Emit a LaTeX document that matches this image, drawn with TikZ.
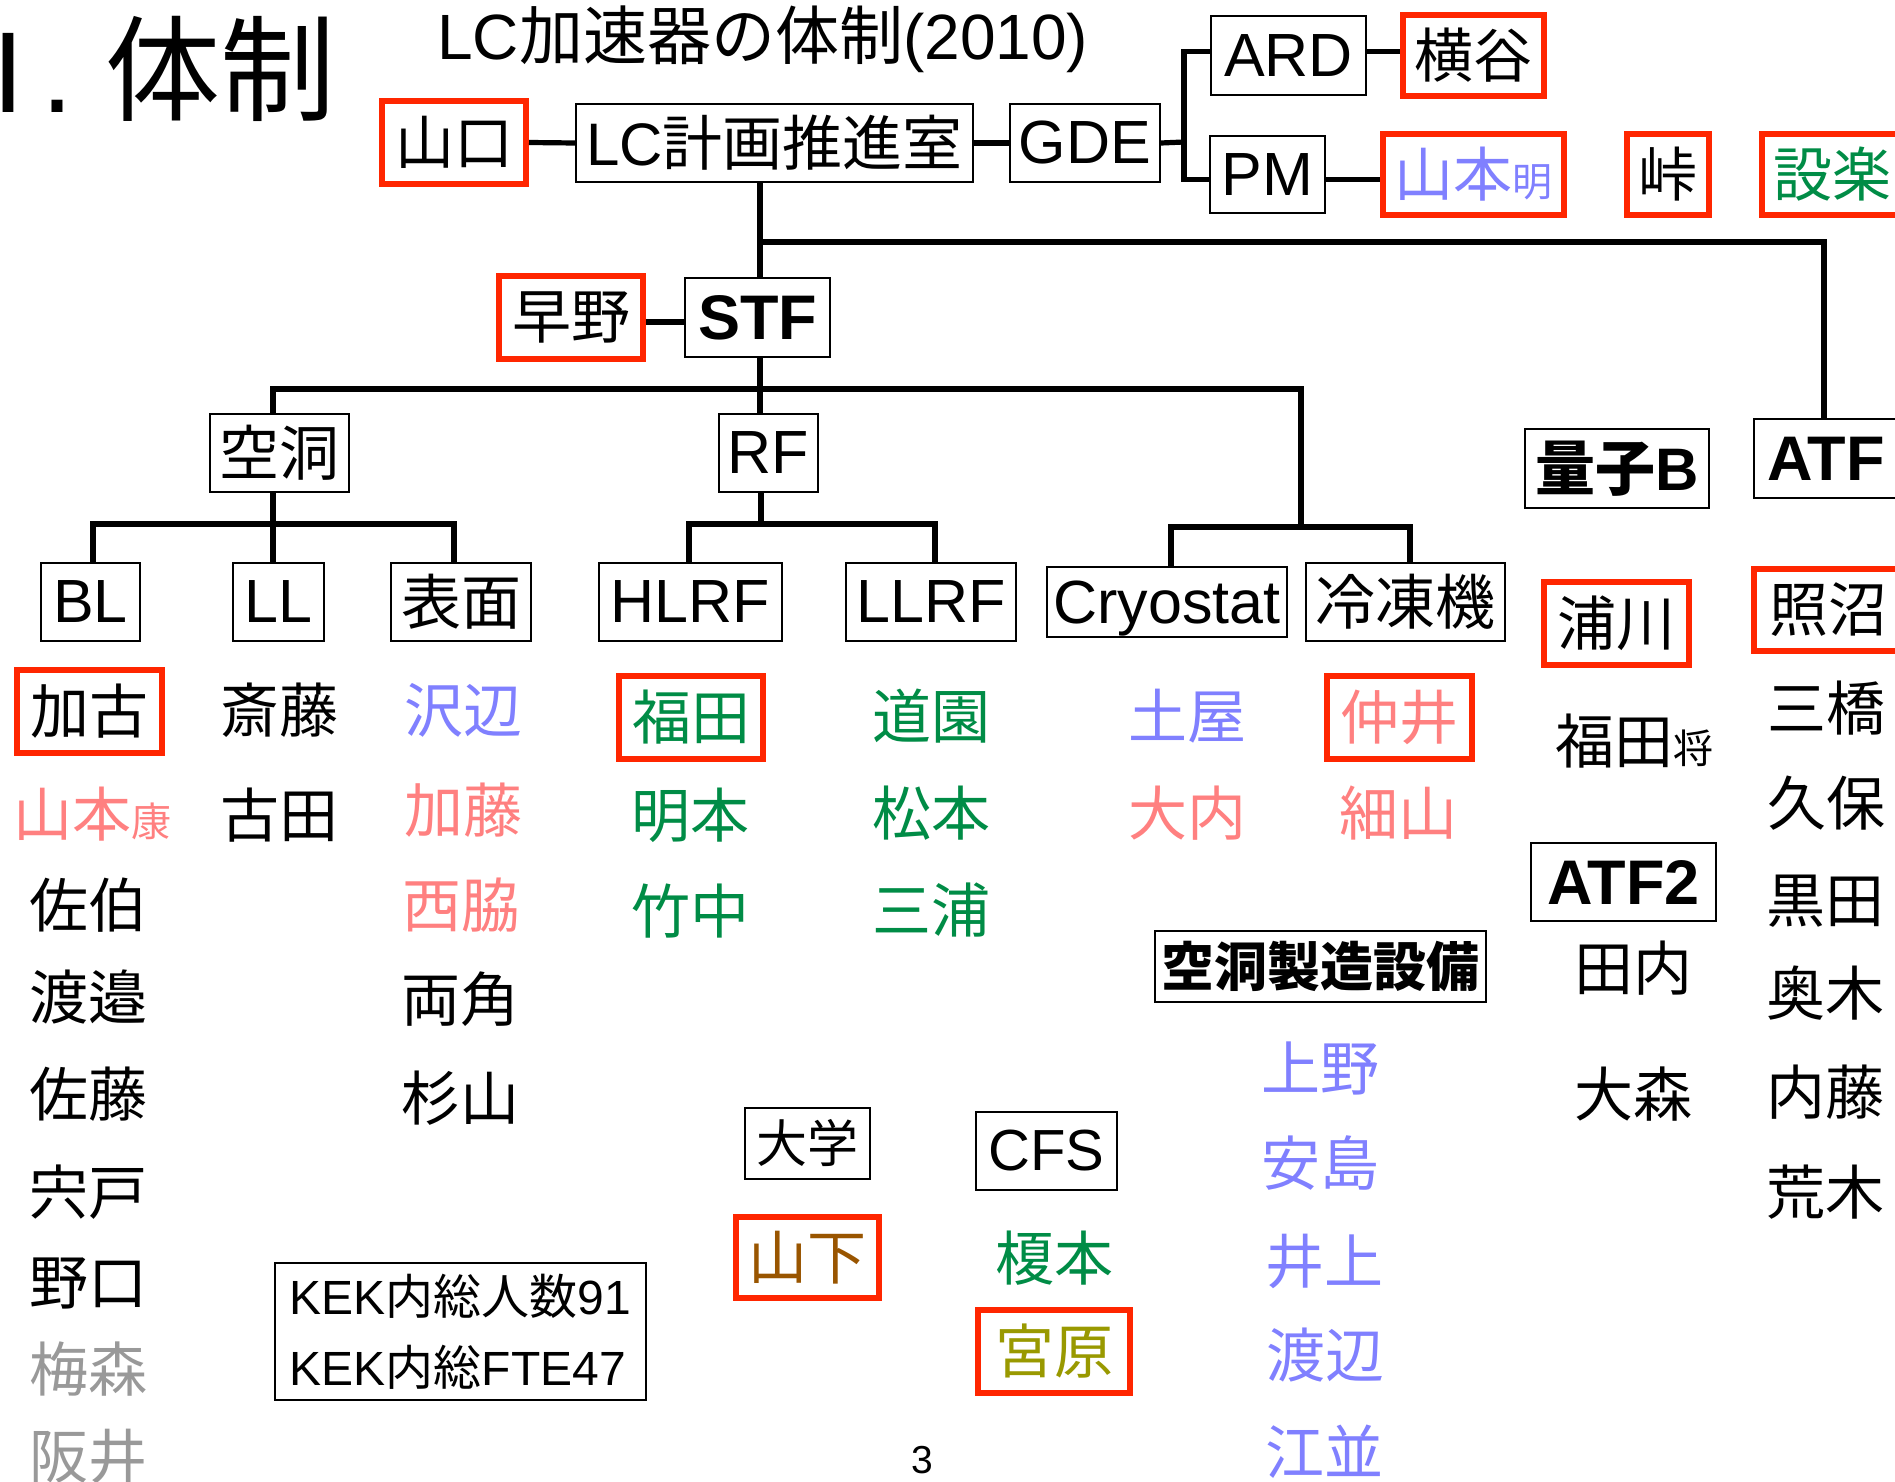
\documentclass[tikz,border=0pt]{standalone}
\usepackage{fontspec}
\setmainfont{Noto Sans CJK JP}
\newfontfamily\lat{Liberation Sans}
\definecolor{myred}{RGB}{255,38,0}
\definecolor{nblue}{RGB}{128,128,255}
\definecolor{npink}{RGB}{255,128,128}
\definecolor{ngreen}{RGB}{0,140,70}
\definecolor{ngray}{RGB}{153,153,153}
\definecolor{nbrown}{RGB}{153,85,0}
\definecolor{nolive}{RGB}{153,153,0}
\newcommand{\smallch}[1]{{\fontsize{20}{20}\selectfont #1}}
\tikzset{
  bx/.style={draw, line width=1pt, inner sep=0pt, font=\fontsize{30}{31}\selectfont},
  bxl/.style={bx, font=\lat\fontsize{30.5}{31}\selectfont},
  bxb/.style={bx, font=\lat\bfseries\fontsize{31.5}{32}\selectfont},
  rbx/.style={draw=myred, line width=3pt, inner sep=0pt, font=\fontsize{29.5}{31}\selectfont},
  nm/.style={inner sep=0pt, font=\fontsize{29.5}{31}\selectfont},
  conn/.style={line width=2.6pt},
}
\begin{document}
\begin{tikzpicture}[x=0.5pt,y=-0.5pt]
\useasboundingbox[fill=white] (0,0) rectangle (1895,1482);

% titles
\node[anchor=base east, inner sep=0pt, font=\fontsize{57.5}{60}\selectfont] (title) at (336,113) {{\lat\kern-5.5pt I\kern8.5pt. }体制};
\node[anchor=base west, inner sep=0pt, font=\fontsize{32}{33}\selectfont] (subtitle) at (437,60) {{\lat LC}加速器の体制{\lat (2010)}};

% top row
\node[rbx, minimum width=72pt, minimum height=41.5pt] (yamaguchi) at (454,142.5) {山口};
\node[bx, minimum width=198.5pt, minimum height=39pt] (lcp) at (774.5,143) {{\lat LC}計画推進室};
\node[bxl, minimum width=75pt, minimum height=39pt] (gde) at (1085,143) {GDE};
\node[bxl, minimum width=77.5pt, minimum height=39.5pt] (ard) at (1288.5,55.5) {ARD};
\node[bxl, minimum width=57.5pt, minimum height=38.5pt] (pm) at (1267.5,174.5) {PM};
\node[rbx, minimum width=70.5pt, minimum height=40.5pt] (yokotani) at (1473.5,55.5) {横谷};
\node[rbx, minimum width=90.5pt, minimum height=40.5pt, text=nblue] (yamamotoA) at (1473.5,174.5) {山本\smallch{明}};
\node[rbx, minimum width=41pt, minimum height=40.5pt] (toge) at (1668,174.5) {峠};
\node[rbx, minimum width=70pt, minimum height=40.5pt, text=ngreen] (shitara) at (1832,174.5) {設楽};

% STF row
\node[rbx, minimum width=72pt, minimum height=41.5pt] (hayano) at (571,317.5) {早野};
\node[bxb, minimum width=72.5pt, minimum height=39.5pt] (stf) at (757.5,317.5) {STF};

% second level
\node[bx, minimum width=69.5pt, minimum height=39pt] (kudo) at (279.5,453) {空洞};
\node[bxl, minimum width=49.5pt, minimum height=39pt] (rf) at (768.5,453) {RF};
\node[bx, minimum width=92pt, minimum height=39.5pt, font=\bfseries\fontsize{30}{31}\selectfont] (ryoshi) at (1617,468.5) {量子{\lat B}};
\node[bxb, minimum width=72pt, minimum height=39.5pt] (atf) at (1826,458.5) {ATF};

% third level
\node[bxl, minimum width=49.5pt, minimum height=39pt] (bl) at (90.5,602) {BL};
\node[bxl, minimum width=45.5pt, minimum height=39pt] (ll) at (278.5,602) {LL};
\node[bx, minimum width=70pt, minimum height=39pt] (hyomen) at (461,602) {表面};
\node[bxl, minimum width=91.5pt, minimum height=39pt] (hlrf) at (690.5,602) {HLRF};
\node[bxl, minimum width=85pt, minimum height=39pt] (llrf) at (931,602) {LLRF};
\node[bxl, minimum width=120pt, minimum height=35pt, text depth=0pt] (cryo) at (1167,602) {Cryostat};
\node[bx, minimum width=99.5pt, minimum height=39pt] (reito) at (1405.5,602) {冷凍機};
\node[rbx, minimum width=72.5pt, minimum height=41.5pt] (urakawa) at (1616.5,623.5) {浦川};
\node[rbx, minimum width=74pt, minimum height=41pt] (terunuma) at (1828,610) {照沼};

% leaders
\node[rbx, minimum width=72.5pt, minimum height=41.5pt] (kako) at (89.5,711.5) {加古};
\node[rbx, minimum width=72pt, minimum height=41.5pt, text=ngreen] (fukuda) at (691,717.5) {福田};
\node[rbx, minimum width=72.5pt, minimum height=41.5pt, text=npink] (nakai) at (1399.5,717.5) {仲井};

% BL column
\node[nm, text=npink] (yamamotoY) at (92.5,814) {山本\smallch{康}};
\node[nm] (saeki) at (88,905) {佐伯};
\node[nm] (watanabe1) at (88,997) {渡邉};
\node[nm] (sato) at (88,1094) {佐藤};
\node[nm] (shishido) at (88,1192) {宍戸};
\node[nm] (noguchi) at (88,1283) {野口};
\node[nm, text=ngray] (umemori) at (88,1369) {梅森};
\node[nm, text=ngray] (sakai) at (88,1456) {阪井};

% LL column
\node[nm] (saito) at (279,710) {斎藤};
\node[nm] (furuta) at (279,815) {古田};

% surface column
\node[nm, text=nblue] (sawabe) at (463,710) {沢辺};
\node[nm, text=npink] (kato) at (463,810) {加藤};
\node[nm, text=npink] (nishiwaki) at (461,905) {西脇};
\node[nm] (morozumi) at (460,999) {両角};
\node[nm] (sugiyama) at (460,1098) {杉山};

% HLRF column
\node[nm, text=ngreen] (akemoto) at (690,815) {明本};
\node[nm, text=ngreen] (takenaka) at (690,911) {竹中};

% LLRF column
\node[nm, text=ngreen] (michizono) at (931,716) {道園};
\node[nm, text=ngreen] (matsumoto) at (931,813) {松本};
\node[nm, text=ngreen] (miura) at (931,910) {三浦};

% cryo column
\node[nm, text=nblue] (tsuchiya) at (1187,716) {土屋};
\node[nm, text=npink] (ouchi) at (1187,813) {大内};
\node[nm, text=npink] (hosoyama) at (1398,813) {細山};

% quantum beam column
\node[nm] (fukudaS) at (1634,741) {福田\smallch{将}};
\node[bxb, minimum width=92.5pt, minimum height=39pt] (atf2) at (1623.5,882) {ATF2};
\node[nm] (tauchi) at (1633,968) {田内};
\node[nm] (omori) at (1633,1094) {大森};

% ATF column
\node[nm] (mitsuhashi) at (1826,708) {三橋};
\node[nm] (kubo) at (1826,803) {久保};
\node[nm] (kuroda) at (1825,901) {黒田};
\node[nm] (okugi) at (1825,993) {奥木};
\node[nm] (naito) at (1825,1092) {内藤};
\node[nm] (araki) at (1825,1192) {荒木};

% cavity fabrication
\node[bx, minimum width=165.5pt, minimum height=35.5pt, font=\bfseries\fontsize{26.5}{27}\selectfont] (kudoset) at (1320.5,966.5) {空洞製造設備};
\node[nm, text=nblue] (ueno) at (1320,1068) {上野};
\node[nm, text=nblue] (ajima) at (1320,1163) {安島};
\node[nm, text=nblue] (inoue) at (1324,1261) {井上};
\node[nm, text=nblue] (watanabe2) at (1325,1355) {渡辺};
\node[nm, text=nblue] (enami) at (1324,1452) {江並};

% university / CFS
\node[bx, minimum width=62.5pt, minimum height=35.5pt, font=\fontsize{25.5}{26}\selectfont] (daigaku) at (807.5,1143.5) {大学};
\node[rbx, minimum width=71.5pt, minimum height=40.5pt, text=nbrown] (yamashita) at (807.5,1257.5) {山下};
\node[bxl, minimum width=70.5pt, minimum height=39pt, font=\lat\fontsize{29}{30}\selectfont] (cfs) at (1046.5,1151) {CFS};
\node[nm, text=ngreen] (enomoto) at (1054,1258) {榎本};
\node[rbx, minimum width=76pt, minimum height=41.5pt, text=nolive] (miyahara) at (1054,1351.5) {宮原};

% KEK box
\node[bx, minimum width=185.5pt, minimum height=68.5pt, align=left, font=\fontsize{24}{35.5}\selectfont] (kek) at (460.5,1331.5) {{\lat KEK}内総人数{\lat 91}\\{\lat KEK}内総{\lat FTE47}};

% page number
\node[inner sep=0pt, font=\lat\fontsize{19.5}{20}\selectfont] (pagenum) at (922,1460) {3};

% junction coordinates
\coordinate (gj) at (1184,142);
\coordinate (ja) at (760,242);
\coordinate (jat) at (1824,242);
\coordinate (jb) at (760,389);
\coordinate (b1) at (273,389);
\coordinate (b2) at (1301,389);
\coordinate (c0) at (1301,527);
\coordinate (c1) at (1171,527);
\coordinate (c2) at (1410,527);
\coordinate (k0) at (273,524);
\coordinate (k1) at (93,524);
\coordinate (k2) at (454,524);
\coordinate (r0) at (761,524);
\coordinate (r1) at (689,524);
\coordinate (r2) at (935,524);

% connectors
\draw[conn] (yamaguchi.east) -- (lcp.west);
\draw[conn] (lcp.east) -- (gde.west);
\draw[conn] (gde.east) -- (gj);
\draw[conn] ([yshift=2pt]ard.west) -| (gj) |- ([yshift=-2.5pt]pm.west);
\draw[conn] ([yshift=2pt]ard.east) -- ([yshift=2pt]ard.east -| yokotani.west);
\draw[conn] ([yshift=-2.5pt]pm.east) -- ([yshift=-2.5pt]pm.east -| yamamotoA.west);
\draw[conn] (lcp.south -| ja) -- (stf.north -| ja);
\draw[conn] (ja) -- (jat) -- (atf.north -| jat);
\draw[conn] ([yshift=-2.25pt]hayano.east) -- ([yshift=-2.25pt]hayano.east -| stf.west);
\draw[conn] (stf.south -| jb) -- (rf.north -| jb);
\draw[conn] (kudo.north -| b1) -- (b1) -- (b2) -- (c0);
\draw[conn] (cryo.north -| c1) -- (c1) -- (c2) -- (reito.north -| c2);
\draw[conn] (kudo.south -| k0) -- (ll.north -| k0);
\draw[conn] (bl.north -| k1) -- (k1) -- (k2) -- (hyomen.north -| k2);
\draw[conn] (rf.south -| r0) -- (r0);
\draw[conn] (hlrf.north -| r1) -- (r1) -- (r2) -- (llrf.north -| r2);
\end{tikzpicture}
\end{document}
